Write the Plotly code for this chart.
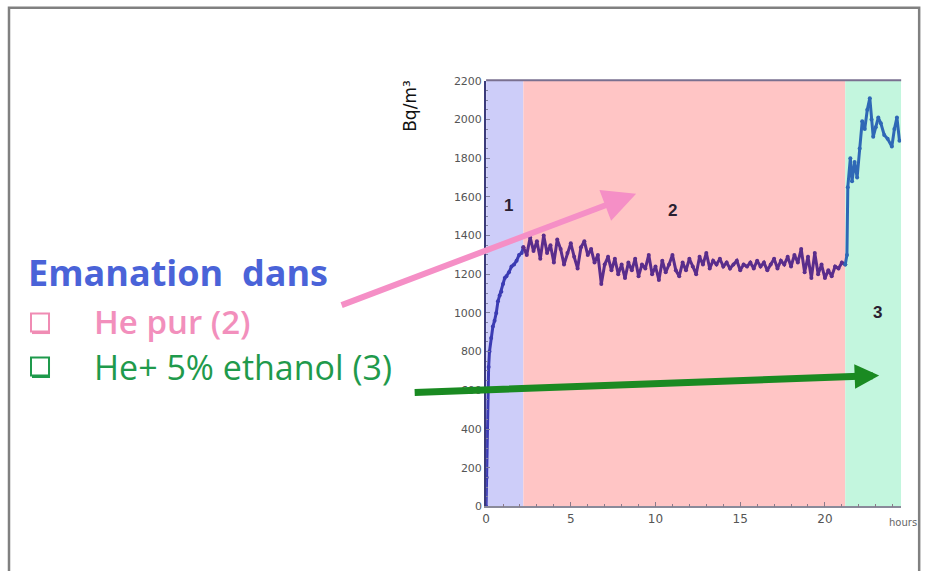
import numpy as np
import plotly.graph_objects as go

W, H = 927, 571

# ---------------- data ----------------
rise_hours = [0, 0.03, 0.06, 0.1, 0.15, 0.2, 0.3, 0.4, 0.5, 0.6, 0.7, 0.8, 0.9,
              1.0, 1.1, 1.2, 1.35, 1.5, 1.65, 1.8, 1.95, 2.1, 2.2]
rise_vals = [0, 150, 400, 600, 720, 800, 870, 930, 960, 1000, 1060, 1090, 1110,
             1150, 1180, 1190, 1210, 1240, 1250, 1270, 1300, 1310, 1340]

plateau_vals = [
    1340, 1300, 1390, 1320, 1370, 1280, 1400, 1310, 1350, 1260,
    1380, 1330, 1250, 1310, 1360, 1290, 1230, 1340, 1370, 1300,
    1330, 1260, 1300, 1150, 1250, 1290, 1220, 1280, 1200, 1250,
    1180, 1260, 1220, 1280, 1190, 1250, 1230, 1300, 1200, 1240,
    1170, 1270, 1210, 1250, 1300, 1220, 1190, 1260, 1220, 1280,
    1240, 1200, 1290, 1250, 1310, 1230, 1270, 1250, 1280, 1240,
    1260, 1230, 1250, 1270, 1220, 1250, 1240, 1260, 1230, 1270,
    1240, 1260, 1220, 1250, 1280, 1230, 1270, 1250, 1290, 1240,
    1300, 1260, 1330, 1210, 1290, 1180, 1310, 1200, 1250, 1180,
    1220, 1190, 1240, 1230, 1260, 1250,
]
plateau_start, plateau_step = 2.2, 0.2
plateau_hours = list(np.round(plateau_start + plateau_step * np.arange(len(plateau_vals)), 2))

ethanol_hours = [21.2, 21.3, 21.35, 21.5, 21.6, 21.75, 21.9, 22.05, 22.2, 22.35, 22.5,
                 22.65, 22.75, 22.85, 23.0, 23.15, 23.3, 23.5, 23.7, 23.95, 24.1, 24.25, 24.4]
ethanol_vals = [1250, 1300, 1650, 1800, 1680, 1780, 1700, 1850, 1990, 1950, 2050,
                2110, 2000, 1910, 1960, 2010, 1980, 1920, 1900, 1860, 1950, 2010, 1890]

region_bounds = [0, 2.2, 21.2, 24.5]
region_labels = ["1", "2", "3"]

x_ticks = [0, 5, 10, 15, 20]
y_ticks = [0, 200, 400, 600, 800, 1000, 1200, 1400, 1600, 1800, 2000, 2200]

# ---------------- helpers (target pixel -> paper, with render compensation) ----------------
SX, OX = 0.9955, 4.0
SY, OY = 0.978, 5.2

def px(x):
    return ((x - OX) / SX) / W

def py(y):
    return 1 - ((y - OY) / SY) / H

fig = go.Figure()

seg_colors = ["#3b3bb3", "#5a2d8c", "#2f68b6"]
for xs, ys, c in [(rise_hours, rise_vals, seg_colors[0]),
                  (plateau_hours, plateau_vals, seg_colors[1]),
                  (ethanol_hours, ethanol_vals, seg_colors[2])]:
    fig.add_trace(go.Scatter(x=xs, y=ys, mode="lines+markers",
                             line=dict(color=c, width=3),
                             marker=dict(color=c, size=4),
                             showlegend=False, hoverinfo="skip"))

shapes = []
fills = ["#cdcdf9", "#ffc5c5", "#c3f6de"]
for i in range(3):
    shapes.append(dict(type="rect", xref="x", yref="y", x0=region_bounds[i], x1=region_bounds[i + 1],
                       y0=0, y1=2200, fillcolor=fills[i], line=dict(width=0), layer="below"))
# plot top frame
shapes.append(dict(type="line", xref="paper", yref="paper", x0=px(486), x1=px(901),
                   y0=py(79.5), y1=py(79.5), line=dict(color="#7a7090", width=2)))
# outer frame
shapes.append(dict(type="rect", xref="paper", yref="paper", x0=px(9), x1=px(919),
                   y0=py(600), y1=py(7), line=dict(color="#808080", width=2.5)))
# checkbox symbols
for yc, col in [(322, "#f08cb4"), (366, "#1f9a4c")]:
    shapes.append(dict(type="rect", xref="paper", yref="paper", x0=px(31), x1=px(49),
                       y0=py(yc + 9), y1=py(yc - 9), line=dict(color=col, width=2)))
    shapes.append(dict(type="line", xref="paper", yref="paper", x0=px(32), x1=px(50),
                       y0=py(yc + 10), y1=py(yc + 10), line=dict(color=col, width=3)))

annotations = []
# region labels
lab_pos = [(1.3, 1555), (11.0, 1529), (23.1, 1002)]
for (lx, ly), t in zip(lab_pos, region_labels):
    annotations.append(dict(x=lx, y=ly, xref="x", yref="y", text="<b>" + t + "</b>", showarrow=False,
                            xanchor="center", yanchor="middle",
                            font=dict(family="Liberation Sans", size=17, color="#2a2030")))
# axis titles
annotations.append(dict(x=px(410), y=py(105), xref="paper", yref="paper", text="Bq/m³", textangle=-90,
                        xanchor="center", yanchor="middle",
                        showarrow=False, font=dict(family="DejaVu Sans", size=17, color="#111")))
annotations.append(dict(x=px(903), y=py(522), xref="paper", yref="paper", text="hours",
                        xanchor="center", yanchor="middle",
                        showarrow=False, font=dict(family="DejaVu Sans", size=10, color="#666")))
# left legend text
annotations.append(dict(x=px(26), y=py(272), xref="paper", yref="paper", xanchor="left", yanchor="middle",
                        text="<b>Emanation  dans</b>", showarrow=False,
                        font=dict(family="Open Sans", size=36, color="#4a63d8")))
annotations.append(dict(x=px(92), y=py(321), xref="paper", yref="paper", xanchor="left", yanchor="middle",
                        text="He pur (2)", showarrow=False,
                        font=dict(family="Open Sans", size=33, color="#f28fbc", weight=600)))
annotations.append(dict(x=px(92), y=py(366), xref="paper", yref="paper", xanchor="left", yanchor="middle",
                        text="He+ 5% ethanol (3)", showarrow=False,
                        font=dict(family="Open Sans", size=34, color="#1f9a4c")))
# arrows
annotations.append(dict(x=px(636), y=py(193), xref="paper", yref="paper", text="",
                        ax=340 - 636, ay=305 - 193, showarrow=True, arrowhead=2,
                        arrowwidth=6, arrowsize=1.1, arrowcolor="#f58fc6"))
annotations.append(dict(x=px(879), y=py(375), xref="paper", yref="paper", text="",
                        ax=413 - 879, ay=392 - 375, showarrow=True, arrowhead=2,
                        arrowwidth=7, arrowsize=0.7, arrowcolor="#1a8a22"))

fig.update_layout(
    width=W, height=H, autosize=False,
    margin=dict(l=0, r=0, t=0, b=0),
    paper_bgcolor="white", plot_bgcolor="white",
    shapes=shapes, annotations=annotations,
    xaxis=dict(domain=[px(486), px(901)], range=[0, 24.5], tickvals=x_ticks,
               ticks="inside", ticklen=5, tickcolor="#8a7a8a", showgrid=False, zeroline=False,
               showline=True, linecolor="#8a8a9a", linewidth=1.5,
               minor=dict(dtick=1, ticks="inside", ticklen=3, tickcolor="#8a7a8a"),
               tickfont=dict(family="DejaVu Sans", size=12, color="#555")),
    yaxis=dict(domain=[py(506), py(80)], range=[0, 2200], tickvals=y_ticks,
               ticks="inside", ticklen=4, tickcolor="#8080a0", showgrid=False, zeroline=False,
               showline=True, linecolor="#3a3a7a", linewidth=2,
               minor=dict(dtick=50, ticks="inside", ticklen=2, tickcolor="#8080a0"),
               tickfont=dict(family="DejaVu Sans", size=11, color="#555")),
)

fig.write_html("out.html", config={"displayModeBar": False},
               post_script="document.body.style.margin='0';document.body.style.padding='0';"
                           "document.documentElement.style.overflow='hidden';")
